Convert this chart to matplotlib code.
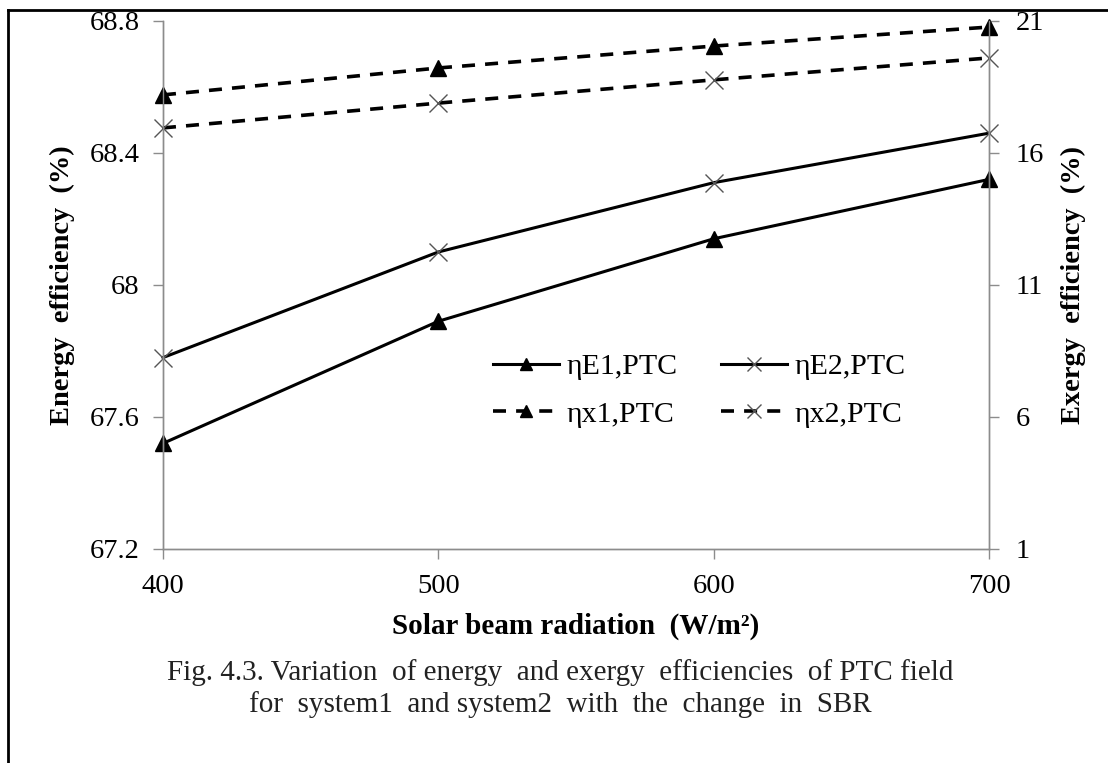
import numpy as np
import matplotlib
matplotlib.use('Agg')
import matplotlib.pyplot as plt
from matplotlib.lines import Line2D

plt.rcParams['font.family'] = ['Liberation Serif', 'DejaVu Serif']

# data
sbr = [400, 500, 600, 700]
eta_E1 = [67.52, 67.89, 68.14, 68.32]
eta_E2 = [67.78, 68.10, 68.31, 68.46]
eta_x1 = [18.2, 19.22, 20.05, 20.77]
eta_x2 = [16.95, 17.89, 18.77, 19.6]

left_ticks = [67.2, 67.6, 68.0, 68.4, 68.8]
left_labels = ['67.2', '67.6', '68', '68.4', '68.8']
right_ticks = [1, 6, 11, 16, 21]

grey = '#8c8c8c'

fig = plt.figure(figsize=(11.08, 7.63), dpi=100)
ax = fig.add_axes([0.1471, 0.2805, 0.7455, 0.692])
ax2 = ax.twinx()

l1, = ax.plot(sbr, eta_E1, '-', color='black', lw=2.2, marker='^', ms=11, mfc='black', mec='black', label='ηE1,PTC')
l2, = ax.plot(sbr, eta_E2, '-', color='black', lw=2.2, marker='x', ms=13, mec='#555555', mew=1.0, label='ηE2,PTC')
l3, = ax2.plot(sbr, eta_x1, color='black', lw=2.6, dashes=(3.6, 2.8), marker='^', ms=11, mfc='black', mec='black', label='ηx1,PTC')
l4, = ax2.plot(sbr, eta_x2, color='black', lw=2.6, dashes=(3.6, 2.8), marker='x', ms=13, mec='#555555', mew=1.0, label='ηx2,PTC')

ax.set_xlim(400, 700)
ax.set_ylim(67.2, 68.8)
ax2.set_ylim(1, 21)
ax.set_xticks(sbr)
ax.set_yticks(left_ticks)
ax.set_yticklabels(left_labels)
ax2.set_yticks(right_ticks)

for a in (ax, ax2):
    a.spines['top'].set_visible(False)
    for s in ('left', 'right', 'bottom'):
        a.spines[s].set_color(grey)
        a.spines[s].set_linewidth(1.0)
    a.tick_params(axis='both', colors=grey, labelcolor='black', length=7, width=1.0, labelsize=20.5, direction='out')
for line in (l1, l2, l3, l4):
    line.set_clip_on(False)
ax.tick_params(axis='x', pad=11)
ax.tick_params(axis='y', pad=10)
ax2.tick_params(axis='y', pad=12)

ax.set_xlabel('Solar beam radiation  (W/m²)', fontsize=21, fontweight='bold', labelpad=10)
ax.set_ylabel('Energy  efficiency  (%)', fontsize=20.5, fontweight='bold', labelpad=10)
ax2.set_ylabel('Exergy  efficiency  (%)', fontsize=20.5, fontweight='bold', labelpad=12)

leg = ax.legend(handles=[l1, l3, l2, l4], ncol=2, loc='center left',
                bbox_to_anchor=(0.40, 0.30), frameon=False, fontsize=21.5,
                handlelength=2.2, handletextpad=0.26, columnspacing=1.45,
                labelspacing=0.7, markerscale=0.75, borderaxespad=0, borderpad=0)

fig.text(0.506, 0.119, 'Fig. 4.3. Variation  of energy  and exergy  efficiencies  of PTC field',
         ha='center', va='center', fontsize=21, color='#222222')
fig.text(0.506, 0.076, 'for  system1  and system2  with  the  change  in  SBR',
         ha='center', va='center', fontsize=21, color='#222222')

# frame around the figure (left and top edges visible)
fig.add_artist(Line2D([0.0075, 0.0075], [0.0, 0.987], color='black', lw=2, transform=fig.transFigure))
fig.add_artist(Line2D([0.0075, 1.0], [0.987, 0.987], color='black', lw=2, transform=fig.transFigure))

fig.savefig('out.png', dpi=100)
